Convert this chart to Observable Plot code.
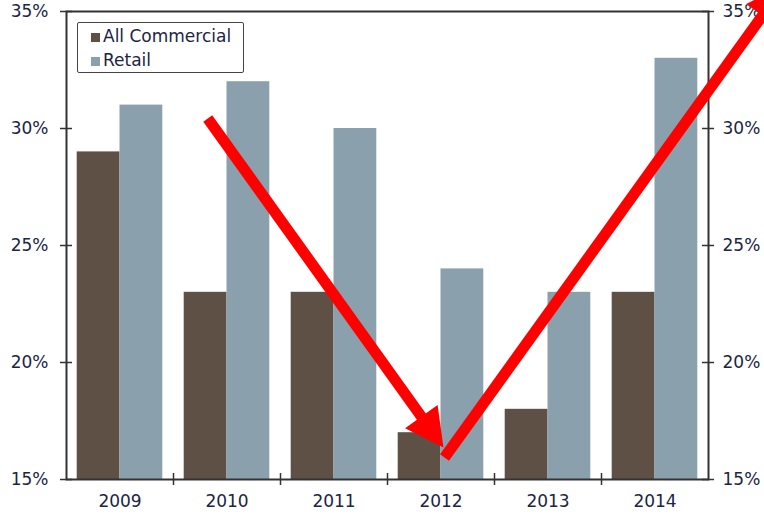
<!DOCTYPE html>
<html><head><meta charset="utf-8">
<script src="https://cdn.jsdelivr.net/npm/d3@7"></script>
<script src="https://cdn.jsdelivr.net/npm/@observablehq/plot@0.6"></script>
<style>
body{margin:0;background:#fff;}
#wrap{position:relative;width:764px;height:516px;overflow:hidden;font-family:"DejaVu Sans",sans-serif;background:#fff;}
#legend{position:absolute;left:77px;top:22px;width:165px;height:49px;border:1.5px solid #444;border-radius:2px;background:#fff;}
.item{position:absolute;left:13px;font-size:17px;color:#1c2444;line-height:20px;white-space:nowrap;}
.sw{display:inline-block;width:9px;height:9px;margin-right:3px;vertical-align:0px;}
</style></head><body><div id="wrap"></div>
<script>
const years = ["2009","2010","2011","2012","2013","2014"];
const allCommercial = [29,23,23,17,18,23];
const retail = [31,32,30,24,23,33];
const yTicks = [15,20,25,30,35];
const groupBounds = [0.5,1.5,2.5,3.5,4.5];
const seriesNames = ["All Commercial","Retail"];
const seriesColors = ["#5e5045","#8aa1ad"];
const arrowShafts = [
  {x1:0.82,y1:30.43,x2:2.887,y2:17.24},
  {x1:3.033,y1:15.94,x2:6.075,y2:35.28}
];
const arrowHeads = [
  {x:3.023,y:16.37,rotate:144.4},
  {x:6.21,y:36.15,rotate:35.3}
];

const bars = years.flatMap((yr,i)=>[
  {i, series:seriesNames[0], value:allCommercial[i], x1:i-0.4, x2:i},
  {i, series:seriesNames[1], value:retail[i], x1:i, x2:i+0.4}
]);
const pct = d => d + "%";

const plot = Plot.plot({
  width:764, height:516,
  marginLeft:66, marginRight:56, marginTop:11, marginBottom:37,
  style:{fontFamily:"DejaVu Sans", fontSize:"17px", color:"#1c2444", background:"white"},
  x:{domain:[-0.5,5.5]},
  y:{domain:[15,35]},
  color:{domain:seriesNames, range:seriesColors},
  marks:[
    Plot.rectY(bars,{x1:"x1",x2:"x2",y1:15,y2:"value",fill:"series"}),
    Plot.frame({stroke:"#333",strokeWidth:2}),
    Plot.ruleY(yTicks,{y:d=>d,x1:-0.5,x2:-0.5,insetLeft:-6,insetRight:-6,stroke:"#333",strokeWidth:1.5}),
    Plot.ruleY(yTicks,{y:d=>d,x1:5.5,x2:5.5,insetLeft:-6,insetRight:-6,stroke:"#333",strokeWidth:1.5}),
    Plot.ruleX(groupBounds,{x:d=>d,y1:15,y2:15,insetTop:-6,insetBottom:-6,stroke:"#333",strokeWidth:1.5}),
    Plot.axisY(yTicks,{anchor:"left",tickSize:0,tickPadding:18,tickFormat:pct,label:null}),
    Plot.axisY(yTicks,{anchor:"right",tickSize:0,tickPadding:14,tickFormat:pct,label:null}),
    Plot.axisX([0,1,2,3,4,5],{tickSize:0,tickPadding:15,tickFormat:i=>years[i],label:null}),
    Plot.link(arrowShafts,{x1:"x1",y1:"y1",x2:"x2",y2:"y2",stroke:"#ff0000",strokeWidth:11}),
    Plot.vector(arrowHeads,{x:"x",y:"y",rotate:"rotate",length:38,r:20,shape:"spike",anchor:"end",fill:"#ff0000",stroke:"none"})
  ]
});
const wrap = document.getElementById("wrap");
wrap.appendChild(plot);
const legend = document.createElement("div");
legend.id = "legend";
seriesNames.forEach((name,k)=>{
  const it = document.createElement("div");
  it.className = "item";
  it.style.top = (k===0 ? 3 : 27) + "px";
  const sw = document.createElement("span");
  sw.className = "sw";
  sw.style.background = seriesColors[k];
  it.appendChild(sw);
  it.appendChild(document.createTextNode(name));
  legend.appendChild(it);
});
wrap.appendChild(legend);
</script></body></html>
